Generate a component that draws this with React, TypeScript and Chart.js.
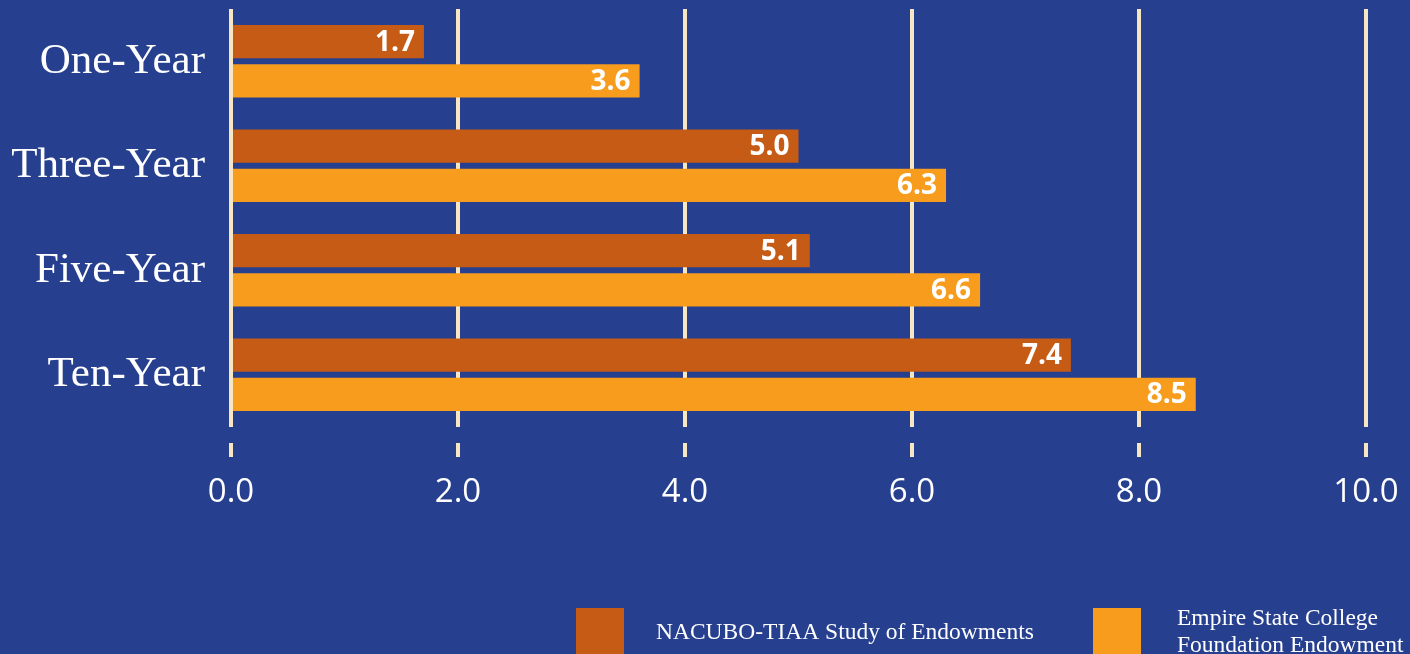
import React, { useEffect, useRef } from "react";
import { Chart, registerables } from "chart.js";

Chart.register(...registerables);

const categories = ["One-Year", "Three-Year", "Five-Year", "Ten-Year"];
const nacuboValues = [1.7, 5.0, 5.1, 7.4];
const empireValues = [3.6, 6.3, 6.6, 8.5];
const seriesNames: (string | string[])[] = [
  "NACUBO-TIAA Study of Endowments",
  ["Empire State College", "Foundation Endowment"],
];
const xTicks = [0, 2, 4, 6, 8, 10];

const BG = "#263F8E";
const DARK_ORANGE = "#C55B14";
const ORANGE = "#F89C1D";
const GRID = "#F6E6C4";

const valueLabels = {
  id: "valueLabels",
  afterDatasetsDraw(chart: any) {
    const ctx = chart.ctx;
    ctx.save();
    ctx.fillStyle = "#FFFFFF";
    ctx.font = "bold 28px 'Open Sans'";
    ctx.textAlign = "right";
    ctx.textBaseline = "middle";
    chart.data.datasets.forEach((ds: any, di: number) => {
      const meta = chart.getDatasetMeta(di);
      meta.data.forEach((bar: any, i: number) => {
        const v = ds.data[i] as number;
        ctx.fillText(v.toFixed(1), bar.x - 9, bar.y + 1);
      });
    });
    ctx.restore();
  },
};

const customLegend = {
  id: "customLegend",
  afterDraw(chart: any) {
    const ctx = chart.ctx;
    const items = [
      { boxX: 576, textX: 656, centerY: 633 },
      { boxX: 1093, textX: 1177, centerY: 633 },
    ];
    ctx.save();
    chart.data.datasets.forEach((ds: any, di: number) => {
      const it = items[di];
      ctx.fillStyle = ds.backgroundColor;
      ctx.fillRect(it.boxX, 608, 48, 60);
      ctx.fillStyle = "#FFFFFF";
      ctx.font = "23.5px 'Liberation Serif'";
      ctx.textAlign = "left";
      ctx.textBaseline = "middle";
      const label = seriesNames[di];
      const lines = Array.isArray(label) ? label : [label];
      const lh = 27;
      const startY = lines.length > 1 ? 619 : it.centerY;
      lines.forEach((ln, li) => ctx.fillText(ln, it.textX, startY + li * lh));
    });
    ctx.restore();
  },
};

export default function App() {
  const ref = useRef<HTMLCanvasElement | null>(null);
  useEffect(() => {
    if (!ref.current) return;
    const chart = new Chart(ref.current, {
      type: "bar",
      data: {
        labels: categories,
        datasets: [
          {
            label: "NACUBO-TIAA Study of Endowments",
            data: nacuboValues,
            backgroundColor: DARK_ORANGE,
            categoryPercentage: 0.75,
            barPercentage: 0.846,
          },
          {
            label: "Empire State College Foundation Endowment",
            data: empireValues,
            backgroundColor: ORANGE,
            categoryPercentage: 0.75,
            barPercentage: 0.846,
          },
        ],
      },
      options: {
        indexAxis: "y",
        animation: false,
        responsive: true,
        maintainAspectRatio: false,
        layout: { padding: { top: 9, right: 44, left: 0, bottom: 0 } },
        plugins: {
          legend: { display: false },
          tooltip: { enabled: false },
        },
        scales: {
          x: {
            min: 0,
            max: 10,
            afterBuildTicks: (scale: any) => {
              scale.ticks = xTicks.map((v) => ({ value: v }));
            },
            afterFit: (scale: any) => {
              scale.height = 227;
              scale.paddingLeft = 0;
              scale.paddingRight = 0;
            },
            border: { display: false },
            grid: {
              color: GRID,
              lineWidth: 4,
              drawTicks: true,
              tickLength: 30,
              tickColor: GRID,
              tickWidth: 4,
              tickBorderDash: [0, 16, 14, 100],
            },
            ticks: {
              color: "#FFFFFF",
              font: { family: "'Open Sans'", size: 33 },
              padding: 16,
              callback: (v: any) => Number(v).toFixed(1),
            },
          },
          y: {
            afterFit: (scale: any) => {
              scale.width = 231;
              scale.paddingTop = 0;
              scale.paddingBottom = 0;
            },
            border: { display: false },
            grid: { display: false, drawTicks: false, tickLength: 0 },
            ticks: {
              color: "#FFFFFF",
              font: { family: "'Liberation Serif'", size: 43 },
              padding: 26,
            },
          },
        },
      },
      plugins: [valueLabels, customLegend],
    });
    return () => chart.destroy();
  }, []);
  return (
    <>
      <style>{`body{margin:0;background:${BG};overflow:hidden}`}</style>
      <div style={{ position: "relative", width: 1410, height: 654, background: BG }}>
        <canvas ref={ref} />
      </div>
    </>
  );
}
